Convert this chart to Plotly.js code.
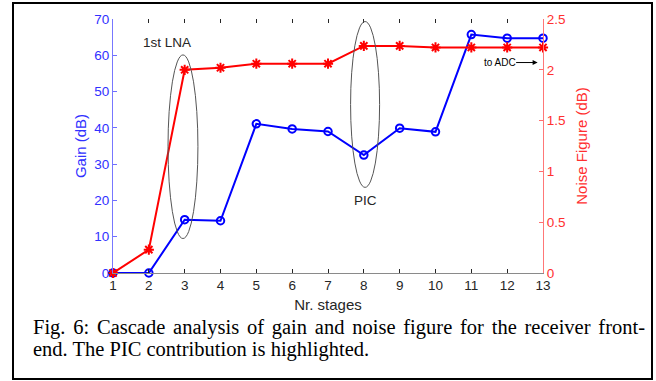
<!DOCTYPE html>
<html>
<head>
<meta charset="utf-8">
<script src="https://cdn.plot.ly/plotly-3.0.1.min.js"></script>
<style>
  html, body { margin: 0; padding: 0; background: #fff; }
  #wrap { position: relative; width: 656px; height: 381px; overflow: hidden; }
  #chart { position: absolute; left: 0; top: 0; width: 656px; height: 381px; }
  #frame { position: absolute; left: 12px; top: 2px; width: 641px; height: 378px;
           box-sizing: border-box; border: 2px solid #000; pointer-events: none; }
  .cap { position: absolute; left: 33px; width: 612px; font-family: "Liberation Serif", "Times New Roman", serif;
         font-size: 20.5px; line-height: 21.7px; color: #000; white-space: nowrap; }
  #cap1 { top: 317.2px; text-align: justify; text-align-last: justify; white-space: normal; }
  #cap2 { top: 338.9px; text-align: left; }
</style>
</head>
<body>
<div id="wrap">
  <div id="chart"></div>
  <div id="cap1" class="cap">Fig. 6: Cascade analysis of gain and noise figure for the receiver front-</div>
  <div id="cap2" class="cap">end. The PIC contribution is highlighted.</div>
  <div id="frame"></div>
</div>
<script>
// ---- data ----
var stages = [1, 2, 3, 4, 5, 6, 7, 8, 9, 10, 11, 12, 13];
var gainDb = [0, 0, 14.7, 14.4, 41.1, 39.7, 39.0, 32.5, 39.9, 38.9, 65.7, 64.7, 64.7];
var noiseFigureDb = [0, 0.23, 2.00, 2.02, 2.06, 2.06, 2.06, 2.235, 2.235, 2.22, 2.22, 2.22, 2.22];
var xTickVals = [1, 2, 3, 4, 5, 6, 7, 8, 9, 10, 11, 12, 13];
var gainTicks = [0, 10, 20, 30, 40, 50, 60, 70];
var nfTicks = [0, 0.5, 1, 1.5, 2, 2.5];
var nfTickText = ['0', '0.5', '1', '1.5', '2', '2.5'];

var SANS = '"Liberation Sans", Arial, Helvetica, sans-serif';
var BLUE = '#0000ff', RED = '#ff0000';

var traces = [
  {
    x: stages, y: gainDb, name: 'Gain', type: 'scatter', mode: 'lines+markers',
    xaxis: 'x', yaxis: 'y',
    line: {color: BLUE, width: 2},
    marker: {symbol: 'circle-open', size: 7.5, color: BLUE, line: {color: BLUE, width: 2}},
    cliponaxis: false, showlegend: false
  },
  {
    x: stages, y: noiseFigureDb, name: 'Noise Figure', type: 'scatter', mode: 'lines+markers',
    xaxis: 'x2', yaxis: 'y2',
    line: {color: RED, width: 2},
    marker: {symbol: 'asterisk-open', size: 8.5, color: RED, line: {color: RED, width: 2}},
    cliponaxis: false, showlegend: false
  }
];

var layout = {
  width: 656, height: 381,
  margin: {l: 113, r: 113, t: 19, b: 108, pad: 0},
  paper_bgcolor: 'rgba(0,0,0,0)',
  plot_bgcolor: 'rgba(0,0,0,0)',
  font: {family: SANS, size: 13.5, color: '#262626'},
  xaxis: {
    range: [1, 13], tickvals: xTickVals, ticks: 'inside', ticklen: 4, tickwidth: 1,
    tickcolor: '#262626', showline: true, linecolor: '#8a8a8a', linewidth: 1,
    showgrid: false, zeroline: false, fixedrange: true,
    tickfont: {family: SANS, size: 13.5, color: '#262626'},
    title: {text: 'Nr. stages', font: {family: SANS, size: 15, color: '#262626'}, standoff: 7},
    automargin: false
  },
  xaxis2: {
    range: [1, 13], tickvals: xTickVals, ticks: 'inside', ticklen: 4, tickwidth: 1,
    tickcolor: '#262626', showline: false, showticklabels: false,
    showgrid: false, zeroline: false, overlaying: 'x', side: 'top', anchor: 'y2', fixedrange: true
  },
  yaxis: {
    range: [0, 70], tickvals: gainTicks, ticks: 'inside', ticklen: 4, tickwidth: 1,
    tickcolor: '#6f6fff', showline: true, linecolor: '#7777ff', linewidth: 1,
    showgrid: false, zeroline: false, fixedrange: true,
    tickfont: {family: SANS, size: 13.5, color: '#3030ff'},
    title: {text: 'Gain (dB)', font: {family: SANS, size: 15, color: '#3030ff'}, standoff: 4},
    automargin: false
  },
  yaxis2: {
    range: [0, 2.5], tickvals: nfTicks, ticktext: nfTickText, ticks: 'inside', ticklen: 4, tickwidth: 1,
    tickcolor: '#ff6f6f', showline: true, linecolor: '#ff7777', linewidth: 1,
    showgrid: false, zeroline: false, overlaying: 'y', side: 'right', anchor: 'x2', fixedrange: true,
    tickfont: {family: SANS, size: 13.5, color: '#ff3030'},
    title: {text: 'Noise Figure (dB)', font: {family: SANS, size: 15, color: '#ff3030'}, standoff: 12},
    automargin: false
  },
  shapes: [
    {type: 'circle', xref: 'x', yref: 'y', x0: 2.535, x1: 3.37, y0: 9.5, y1: 60.1,
     line: {color: '#555555', width: 1}, layer: 'above'},
    {type: 'circle', xref: 'x', yref: 'y', x0: 7.63, x1: 8.44, y0: 23.6, y1: 69.3,
     line: {color: '#555555', width: 1}, layer: 'above'}
  ],
  annotations: [
    {text: '1st LNA', xref: 'x', yref: 'y', x: 2.5, y: 63.4, showarrow: false,
     xanchor: 'center', yanchor: 'middle', font: {family: SANS, size: 13.5, color: '#262626'}},
    {text: 'PIC', xref: 'x', yref: 'y', x: 8.04, y: 20.1, showarrow: false,
     xanchor: 'center', yanchor: 'middle', font: {family: SANS, size: 13.5, color: '#262626'}},
    {text: 'to ADC', xref: 'x', yref: 'y', x: 12.85, y: 58.0, showarrow: true,
     ax: -38, ay: 0, arrowhead: 2, arrowsize: 1, arrowwidth: 1, arrowcolor: '#000',
     standoff: 0, startstandoff: 0, borderpad: 0,
     font: {family: SANS, size: 10, color: '#000'}}
  ]
};

Plotly.newPlot('chart', traces, layout, {staticPlot: true, displayModeBar: false});
</script>
</body>
</html>
